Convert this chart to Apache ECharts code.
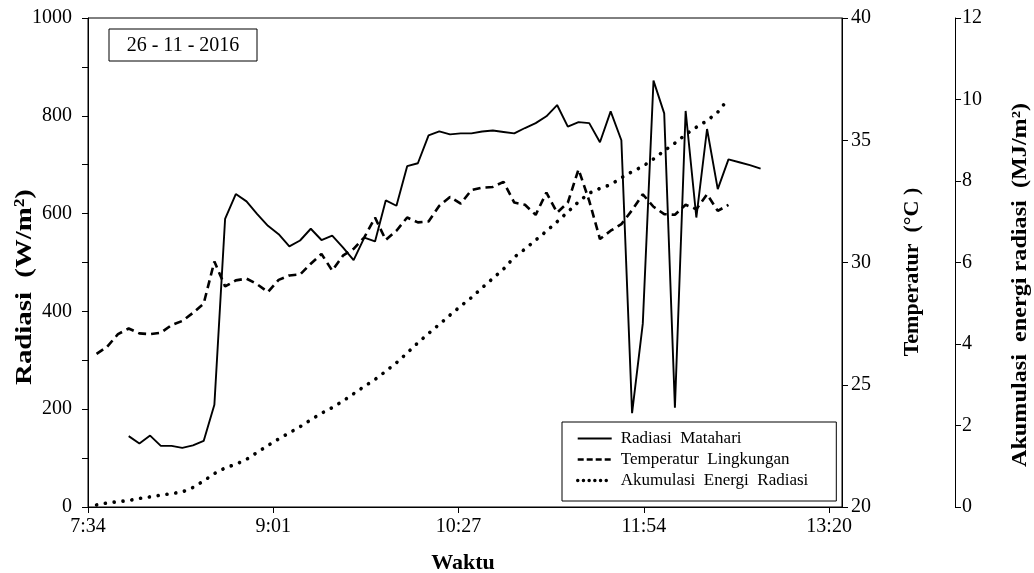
<!DOCTYPE html>
<html>
<head>
<meta charset="utf-8">
<script src="https://cdn.jsdelivr.net/npm/echarts@6/dist/echarts.min.js"></script>
<style>
html, body { margin: 0; padding: 0; background: #fff; }
#chart { width: 1034px; height: 573px; }
</style>
</head>
<body>
<div id="chart"></div>
<script>
// waktu pengukuran (tiap 5 menit)
var times = ['7:38','7:43','7:48','7:53','7:58','8:03','8:08','8:13','8:18','8:23',
    '8:28','8:33','8:38','8:43','8:48','8:53','8:58','9:03','9:08','9:13',
    '9:18','9:23','9:28','9:33','9:38','9:43','9:48','9:53','9:58','10:03',
    '10:08','10:13','10:18','10:23','10:28','10:33','10:38','10:43','10:48','10:53',
    '10:58','11:03','11:08','11:13','11:18','11:23','11:28','11:33','11:38','11:43',
    '11:48','11:53','11:58','12:03','12:08','12:13','12:18','12:23','12:28','12:33',
    '12:38','12:43','12:48'];

// Radiasi matahari (W/m2)
var radiasi = [null, null, null, 145, 130, 146, 125, 125, 121, 126,
    135, 209, 589, 640, 625, 599, 575, 558, 533, 545,
    569, 546, 555, 531, 505, 551, 543, 627, 616, 697,
    703, 760, 768, 762, 764, 764, 768, 770, 767, 764,
    775, 785, 799, 822, 778, 787, 785, 746, 809, 750,
    192, 375, 872, 805, 203, 810, 592, 773, 650, 711,
    705, 699, 692];

// Temperatur lingkungan (C)
var temperatur = [26.26, 26.56, 27.07, 27.30, 27.10, 27.07, 27.13, 27.44, 27.61, 27.94,
    28.32, 30.04, 29.02, 29.27, 29.34, 29.11, 28.79, 29.29, 29.47, 29.51,
    29.95, 30.35, 29.67, 30.28, 30.56, 31.03, 31.84, 30.92, 31.30, 31.84,
    31.64, 31.68, 32.32, 32.68, 32.41, 32.96, 33.06, 33.09, 33.30, 32.45,
    32.36, 31.95, 32.86, 32.04, 32.45, 33.81, 32.52, 30.96, 31.30, 31.57,
    32.14, 32.79, 32.28, 31.98, 31.95, 32.36, 32.18, 32.79, 32.11, 32.36,
    null, null, null];

// Akumulasi energi radiasi (MJ/m2)
var energi = [0.05, 0.10, 0.13, 0.16, 0.21, 0.25, 0.29, 0.33, 0.37, 0.48,
    0.64, 0.82, 0.96, 1.05, 1.17, 1.34, 1.51, 1.67, 1.82, 1.97,
    2.14, 2.30, 2.44, 2.60, 2.78, 2.96, 3.13, 3.33, 3.54, 3.78,
    4.03, 4.26, 4.48, 4.71, 4.93, 5.14, 5.38, 5.61, 5.84, 6.13,
    6.33, 6.55, 6.77, 7.00, 7.24, 7.49, 7.70, 7.82, 7.91, 8.08,
    8.23, 8.36, 8.54, 8.74, 8.93, 9.14, 9.32, 9.48, 9.69, 10.02,
    null, null, null];

// label sumbu waktu (menit sejak 00:00)
var xTickValues = [454, 540.5, 627, 713.5, 800];
var xTickLabels = ['7:34', '9:01', '10:27', '11:54', '13:20'];

var seriesNames = ['Radiasi  Matahari', 'Temperatur  Lingkungan', 'Akumulasi  Energi  Radiasi'];

var FONT = 'Liberation Serif';

function toMinutes(s) {
    var p = s.split(':');
    return parseInt(p[0], 10) * 60 + parseInt(p[1], 10);
}

function pairs(values) {
    var out = [];
    for (var i = 0; i < times.length; i++) {
        out.push([toMinutes(times[i]), values[i]]);
    }
    return out;
}

function plain(v) { return String(v); }

var myChart = echarts.init(document.getElementById('chart'));

var axisLineStyle = { show: true, lineStyle: { color: '#000', width: 1 } };
var tickStyle = { show: true, length: 6, lineStyle: { color: '#000', width: 1 } };
var labelStyle = { color: '#000', fontFamily: FONT, fontSize: 20, formatter: plain };

var option = {
    animation: false,
    backgroundColor: '#fff',
    grid: {
        left: 88, right: 192, top: 18, bottom: 66,
        show: true, borderColor: '#000', borderWidth: 1
    },
    legend: {
        orient: 'vertical',
        left: 562, top: 422,
        itemWidth: 34, itemHeight: 14, itemGap: 4,
        padding: [8, 28, 12, 14],
        borderColor: '#000', borderWidth: 1,
        backgroundColor: '#fff',
        itemStyle: { opacity: 0 },
        textStyle: { color: '#000', fontFamily: FONT, fontSize: 17, padding: [0, 0, 0, 4] },
        data: [
            { name: seriesNames[0], lineStyle: { width: 2 } },
            { name: seriesNames[1], lineStyle: { width: 2.4, type: [6, 3] } },
            { name: seriesNames[2], lineStyle: { width: 3.4, type: [0.1, 5.6], cap: 'round' } }
        ]
    },
    xAxis: {
        type: 'value',
        min: 454, max: 806,
        axisLine: axisLineStyle,
        axisTick: { show: true, length: 6, customValues: xTickValues, lineStyle: { color: '#000' } },
        axisLabel: {
            customValues: xTickValues,
            margin: 10, color: '#000', fontFamily: FONT, fontSize: 20,
            formatter: function (v) {
                for (var i = 0; i < xTickValues.length; i++) {
                    if (Math.abs(xTickValues[i] - v) < 0.01) return xTickLabels[i];
                }
                return '';
            }
        },
        splitLine: { show: false }
    },
    yAxis: [{
        type: 'value', position: 'left',
        min: 0, max: 1000, interval: 200,
        axisLine: axisLineStyle,
        axisTick: tickStyle,
        minorTick: { show: true, splitNumber: 2, length: 6, lineStyle: { color: '#000' } },
        axisLabel: Object.assign({ margin: 16 }, labelStyle),
        splitLine: { show: false }
    }, {
        type: 'value', position: 'right',
        min: 20, max: 40, interval: 5,
        axisLine: axisLineStyle,
        axisTick: tickStyle,
        axisLabel: Object.assign({ margin: 9 }, labelStyle),
        splitLine: { show: false }
    }, {
        type: 'value', position: 'right', offset: 113,
        min: 0, max: 12, interval: 2,
        axisLine: axisLineStyle,
        axisTick: tickStyle,
        axisLabel: Object.assign({ margin: 7 }, labelStyle),
        splitLine: { show: false }
    }],
    series: [{
        name: seriesNames[0],
        type: 'line',
        yAxisIndex: 0,
        symbol: 'none',
        lineStyle: { color: '#000', width: 1.9 },
        itemStyle: { color: '#000' },
        data: pairs(radiasi)
    }, {
        name: seriesNames[1],
        type: 'line',
        yAxisIndex: 1,
        symbol: 'none',
        lineStyle: { color: '#000', width: 2.6, type: [8, 5] },
        itemStyle: { color: '#000' },
        data: pairs(temperatur)
    }, {
        name: seriesNames[2],
        type: 'line',
        yAxisIndex: 2,
        symbol: 'none',
        lineStyle: { color: '#000', width: 3.6, type: [0.1, 8.8], cap: 'round' },
        itemStyle: { color: '#000' },
        data: pairs(energi)
    }],
    graphic: [{
        type: 'rect',
        shape: { x: 109, y: 29, width: 148, height: 32 },
        style: { fill: '#fff', stroke: '#000', lineWidth: 1 }
    }, {
        type: 'text', x: 183, y: 46,
        style: { text: '26 - 11 - 2016', font: '20px "Liberation Serif"', fill: '#000', align: 'center', verticalAlign: 'middle' }
    }, {
        type: 'text', x: 25, y: 287, rotation: Math.PI / 2, scaleX: 1.2,
        style: { text: 'Radiasi  (W/m²)', font: 'bold 24px "Liberation Serif"', fill: '#000', align: 'center', verticalAlign: 'middle' }
    }, {
        type: 'text', x: 463, y: 563,
        style: { text: 'Waktu', font: 'bold 22px "Liberation Serif"', fill: '#000', align: 'center', verticalAlign: 'middle' }
    }, {
        type: 'text', x: 912, y: 272, rotation: Math.PI / 2,
        style: { text: 'Temperatur  (°C )', font: 'bold 22px "Liberation Serif"', fill: '#000', align: 'center', verticalAlign: 'middle' }
    }, {
        type: 'text', x: 1020, y: 285, rotation: Math.PI / 2, scaleX: 1.1,
        style: { text: 'Akumulasi  energi radiasi  (MJ/m²)', font: 'bold 22px "Liberation Serif"', fill: '#000', align: 'center', verticalAlign: 'middle' }
    }]
};

myChart.setOption(option);
</script>
</body>
</html>
